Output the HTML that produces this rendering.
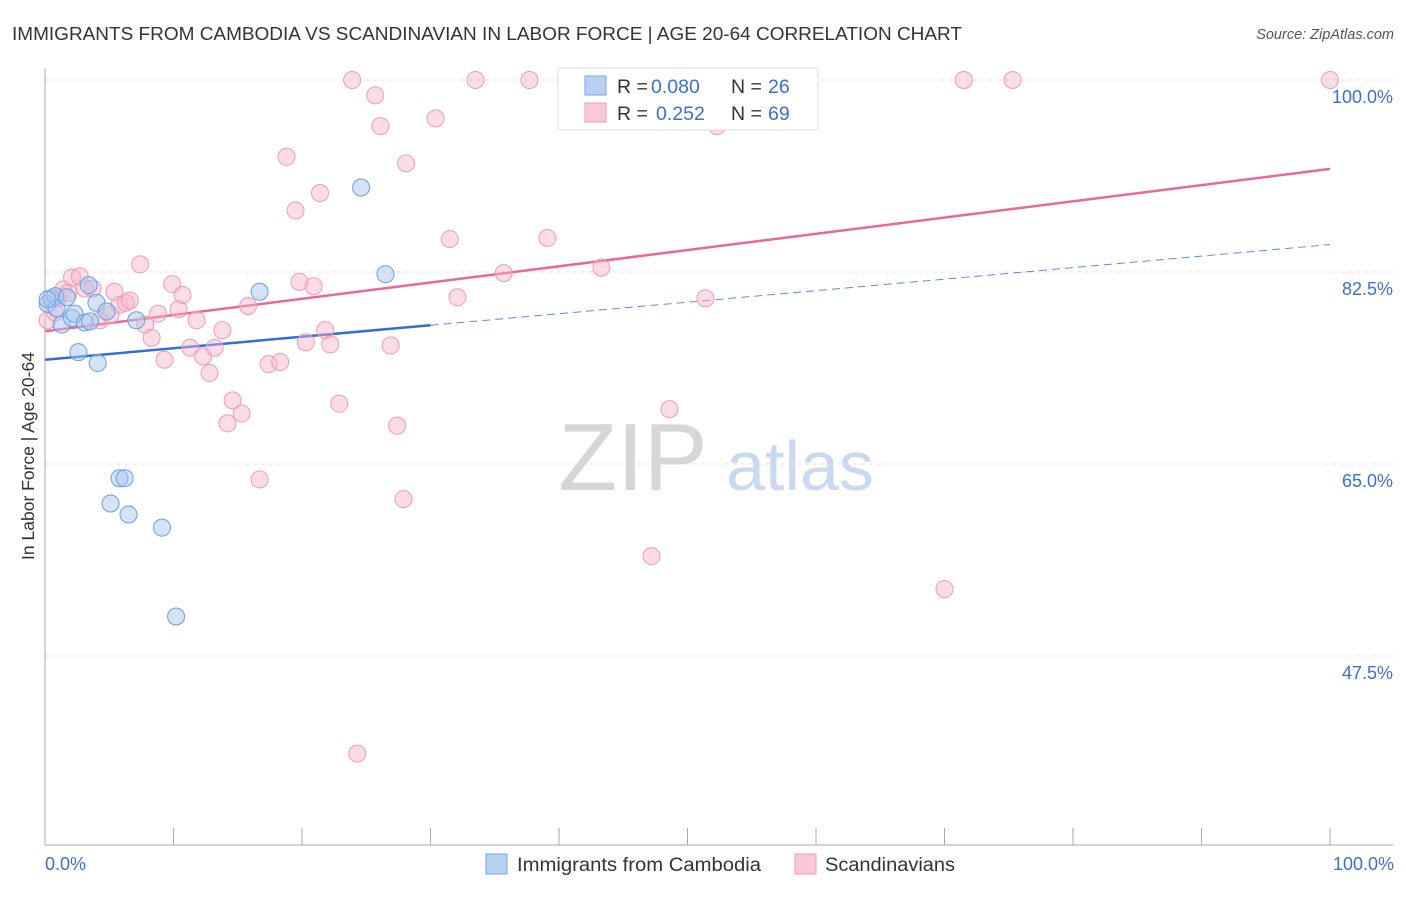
<!DOCTYPE html>
<html><head><meta charset="utf-8"><style>
body{margin:0;background:#fff;font-family:"Liberation Sans",sans-serif}
svg text{font-family:"Liberation Sans",sans-serif}
</style></head><body>
<svg width="1406" height="892" id="chart">
<text x="12" y="40" font-size="18" fill="#333" textLength="950" lengthAdjust="spacingAndGlyphs">IMMIGRANTS FROM CAMBODIA VS SCANDINAVIAN IN LABOR FORCE | AGE 20-64 CORRELATION CHART</text>
<text x="1394" y="39" font-size="14.5" fill="#555" text-anchor="end" font-style="italic">Source: ZipAtlas.com</text>
<text transform="translate(34,456) rotate(-90)" font-size="17.5" fill="#333" text-anchor="middle">In Labor Force | Age 20-64</text>
<g><text x="633" y="490" font-size="96" fill="#d6d6d6" font-family="Liberation Serif,serif" text-anchor="middle">ZIP</text><text x="800" y="490" font-size="70" fill="#c9daf0" text-anchor="middle">atlas</text></g>
<g id="grid"></g><g id="axes"></g><g id="trend"></g><g id="pts"></g>
<g>
<rect x="558" y="68" width="260" height="62" fill="#fff" stroke="#ddd"/>
<rect x="585" y="76" width="21" height="19" fill="#b8d1f3" stroke="#7aa5e0"/>
<rect x="585" y="103" width="21" height="19" fill="#fbc8d8" stroke="#ee9ab5"/>
<text x="617" y="93" font-size="19.5" fill="#333">R =</text><text x="651" y="93" font-size="19.5" fill="#3a6fd0">0.080</text>
<text x="731" y="93" font-size="19.5" fill="#333">N =</text><text x="768" y="93" font-size="19.5" fill="#3a6fd0">26</text>
<text x="617" y="120" font-size="19.5" fill="#333">R =</text><text x="656" y="120" font-size="19.5" fill="#3a6fd0">0.252</text>
<text x="731" y="120" font-size="19.5" fill="#333">N =</text><text x="768" y="120" font-size="19.5" fill="#3a6fd0">69</text>
</g>
<g>
<rect x="486" y="854" width="21" height="20" fill="#b8d1f3" stroke="#7aa5e0"/>
<text x="517" y="871" font-size="19" fill="#333" textLength="244" lengthAdjust="spacingAndGlyphs">Immigrants from Cambodia</text>
<rect x="795" y="854" width="21" height="20" fill="#fbc8d8" stroke="#ee9ab5"/>
<text x="825" y="871" font-size="19" fill="#333" textLength="130" lengthAdjust="spacingAndGlyphs">Scandinavians</text>
</g>
<text x="45" y="870" font-size="18" fill="#3a6fd0">0.0%</text>
<text x="1394" y="870" font-size="18" fill="#3a6fd0" text-anchor="end">100.0%</text>
</svg>
<script>
const yTicks=[100,82.5,65,47.5];
const xTicks=[0,10,20,30,40,50,60,70,80,90,100];
const blueX=[0.2,0.5,0.8,0.9,1.3,1.7,2.1,2.3,2.6,3.1,3.4,3.5,4.1,4.0,4.8,5.1,5.8,6.2,6.5,7.1,9.1,10.2,16.7,24.6,26.5,0.2];
const blueY=[79.6,80.1,80.3,79.2,77.7,80.2,78.3,78.7,75.2,77.9,81.3,78.0,74.2,79.7,78.9,61.4,63.7,63.7,60.4,78.1,59.2,51.1,80.7,90.2,82.3,80.0];
const pinkX=[0.2,0.8,1.0,1.4,1.8,2.1,2.7,3.1,3.7,4.3,5.1,5.4,5.8,6.3,6.6,7.4,7.8,8.3,8.8,9.3,9.9,10.4,10.7,11.3,11.8,12.3,12.8,13.2,13.8,14.2,14.6,15.3,15.8,16.7,17.4,18.3,18.8,19.5,19.8,20.3,20.9,21.4,21.8,22.2,22.9,23.9,25.7,26.1,26.9,27.4,27.9,28.1,30.4,31.5,32.1,33.5,35.7,37.7,39.1,42.0,43.3,47.2,48.6,51.4,52.3,70.0,71.5,75.3,100,24.3];
const pinkY=[78.1,78.8,80.1,80.9,80.6,82.0,82.1,81.0,81.0,78.1,78.6,80.7,79.5,79.7,79.9,83.2,77.7,76.5,78.7,74.5,81.4,79.1,80.4,75.6,78.1,74.8,73.3,75.6,77.2,68.7,70.8,69.6,79.4,63.6,74.1,74.3,93.0,88.1,81.6,76.1,81.2,89.7,77.2,75.9,70.5,100,98.6,95.8,75.8,68.5,61.8,92.4,96.5,85.5,80.2,100,82.4,100,85.6,100,82.9,56.6,70.0,80.1,95.8,53.6,100,100,100,38.6];
const pinkTrend=[77.1,91.9];
const blueTrend=[74.5,85.0];
const blueSolidEnd=30;
const NS="http://www.w3.org/2000/svg";
const sx=v=>45+v*12.85, sy=v=>80+(100-v)/17.5*192;
function mk(tag,attrs,parent){const e=document.createElementNS(NS,tag);for(const k in attrs)e.setAttribute(k,attrs[k]);parent.appendChild(e);return e;}
const grid=document.getElementById('grid'),axes=document.getElementById('axes'),trend=document.getElementById('trend'),pts=document.getElementById('pts');
yTicks.forEach(t=>{
 const l=mk('line',{x1:45,x2:1393,y1:sy(t),y2:sy(t),stroke:'#ddd','stroke-dasharray':'4,4'},grid);
 
 
 const tx=mk('text',{x:1393,y:sy(t)+23,'font-size':18,fill:'#3a6fd0','text-anchor':'end'},grid);
 tx.textContent=t.toFixed(1)+'%';
 
 
});
const ya=mk('line',{x1:45,x2:45,y1:68,y2:845,stroke:'#aaa'},axes);


const xa=mk('line',{x1:45,x2:1393,y1:845,y2:845,stroke:'#aaa'},axes);


xTicks.forEach(t=>{
 const l=mk('line',{x1:sx(t),x2:sx(t),y1:828,y2:845,stroke:'#aaa'},axes);
 
 
});
const ty=(tr,x)=>tr[0]+(tr[1]-tr[0])*x/100;
const pl=mk('line',{x1:sx(0),y1:sy(pinkTrend[0]),x2:sx(100),y2:sy(pinkTrend[1]),stroke:'#e8689a','stroke-width':2.5},trend);


const bl=mk('line',{x1:sx(0),y1:sy(ty(blueTrend,0)),x2:sx(blueSolidEnd),y2:sy(ty(blueTrend,blueSolidEnd)),stroke:'#2f6fd6','stroke-width':2.5},trend);


const bd=mk('line',{x1:sx(blueSolidEnd),y1:sy(ty(blueTrend,blueSolidEnd)),x2:sx(100),y2:sy(ty(blueTrend,100)),stroke:'#5b8de0','stroke-width':1,'stroke-dasharray':'8,5'},trend);


pinkX.forEach((x,i)=>{
 const c=mk('circle',{cx:sx(x),cy:sy(pinkY[i]),r:8.5,fill:'rgba(248,180,202,0.45)',stroke:'#ef9ab6','stroke-width':1},pts);
 
 
});
blueX.forEach((x,i)=>{
 const c=mk('circle',{cx:sx(x),cy:sy(blueY[i]),r:8.5,fill:'rgba(170,200,240,0.5)',stroke:'#6b9de0','stroke-width':1},pts);
 
 
});
</script>
</body></html>
